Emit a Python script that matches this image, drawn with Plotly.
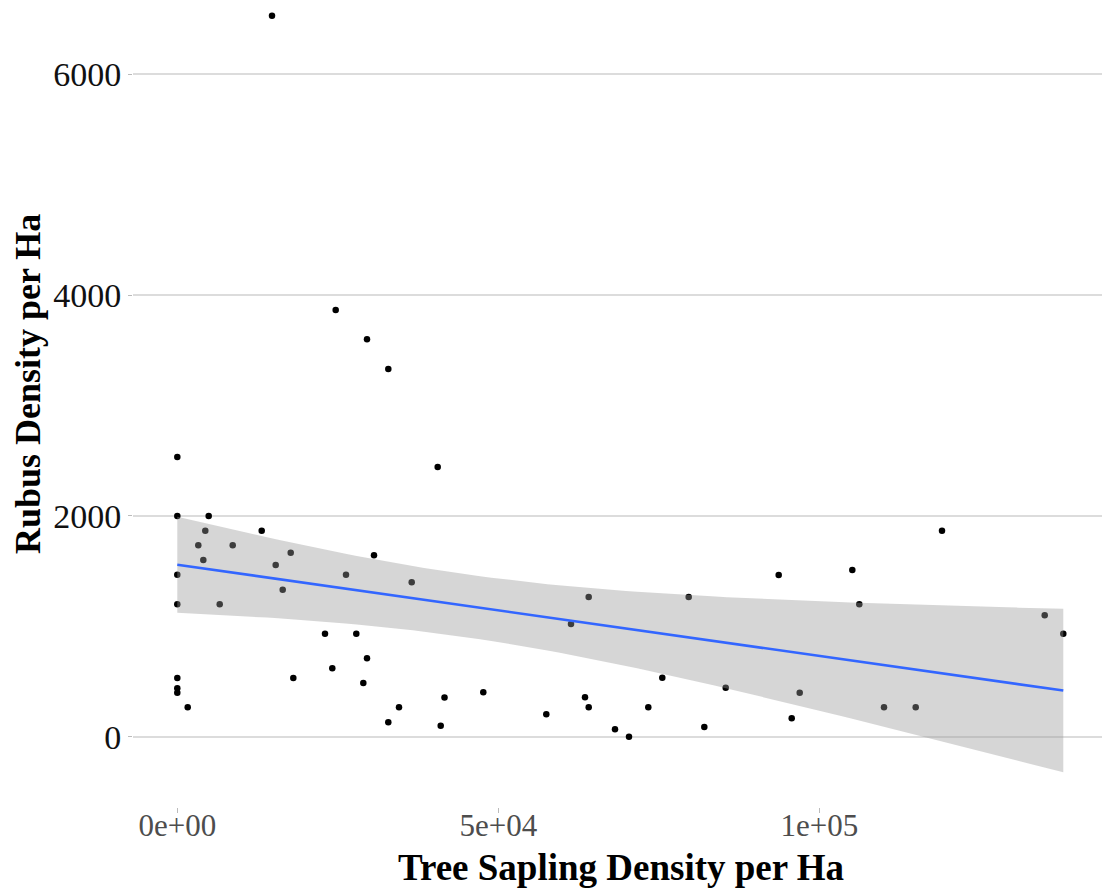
import numpy as np
import plotly.graph_objects as go

# Data
sapling_density = [
    14751, 24673, 29548, 32866, 40561, 0, 0, 4891, 4361, 13146,
    3271, 8629, 17664, 4050, 15327, 30639, 0, 26277, 36511, 16417,
    0, 6604, 23006, 27882, 29548, 24143, 0, 18069, 28972, 0,
    0, 41620, 1620, 34533, 32866, 41028, 64081, 79657, 61324, 75545,
    85421, 47664, 63505, 64081, 73364, 57477, 68178, 70358, 82087, 119112,
    93676, 105140, 106231, 135109, 138006, 96947, 95701, 110078, 115016,
]
rubus_density = [
    6531, 3865, 3600, 3331, 2443, 2534, 2000, 2000, 1866, 1866,
    1734, 1734, 1667, 1601, 1555, 1643, 1467, 1467, 1399, 1332,
    1199, 1199, 933, 933, 710, 620, 532, 532, 486, 438,
    399, 355, 266, 266, 130, 100, 1265, 1265, 1021, 534,
    444, 402, 357, 266, 266, 203, 67, 0, 88, 1866,
    1465, 1510, 1199, 1100, 933, 399, 167, 266, 266,
]
x_tick_vals = [0, 50000, 100000]
x_tick_text = ["0e+00", "5e+04", "1e+05"]
y_tick_vals = [0, 2000, 4000, 6000]
y_tick_text = ["0", "2000", "4000", "6000"]

# Linear model fit with 95% confidence band (like geom_smooth(method="lm"))
x = np.array(sapling_density, dtype=float)
y = np.array(rubus_density, dtype=float)
n = len(x)
slope, intercept = np.polyfit(x, y, 1)
resid = y - (intercept + slope * x)
s = np.sqrt(np.sum(resid ** 2) / (n - 2))
xbar = x.mean()
sxx = np.sum((x - xbar) ** 2)
T_CRIT = 2.0025  # t(0.975, df = n - 2)
xs = np.linspace(x.min(), x.max(), 80)
fit = intercept + slope * xs
se = s * np.sqrt(1.0 / n + (xs - xbar) ** 2 / sxx)
upper = fit + T_CRIT * se
lower = fit - T_CRIT * se

SERIF = "Liberation Serif, Times New Roman, serif"

fig = go.Figure()
fig.add_trace(go.Scatter(
    x=x, y=y, mode="markers",
    marker=dict(color="black", size=6.5, line=dict(width=0)),
    showlegend=False, hoverinfo="x+y",
))
fig.add_trace(go.Scatter(
    x=np.concatenate([xs, xs[::-1]]),
    y=np.concatenate([upper, lower[::-1]]),
    fill="toself", fillcolor="rgba(153,153,153,0.4)",
    line=dict(width=0), mode="lines", showlegend=False, hoverinfo="skip",
))
fig.add_trace(go.Scatter(
    x=xs, y=fit, mode="lines",
    line=dict(color="#3366FF", width=2.6),
    showlegend=False, hoverinfo="skip",
))

fig.update_layout(
    width=1102, height=888,
    margin=dict(l=133, r=0, t=0, b=81),
    paper_bgcolor="white", plot_bgcolor="white",
    font=dict(family=SERIF),
    xaxis=dict(
        range=[-6900, 144034],
        tickvals=x_tick_vals, ticktext=x_tick_text,
        showgrid=False, zeroline=False, showline=False,
        ticks="outside", ticklen=5, tickwidth=1, tickcolor="#bbbbbb",
        ticklabelstandoff=-14,
        tickfont=dict(size=31, color="#4d4d4d", family=SERIF),
    ),
    yaxis=dict(
        range=[-637, 6673],
        tickvals=y_tick_vals, ticktext=y_tick_text,
        showgrid=True, gridcolor="#dcdcdc", gridwidth=1.5,
        zeroline=False, showline=False,
        ticks="outside", ticklen=4, tickwidth=1, tickcolor="#bbbbbb",
        tickfont=dict(size=34, color="#111111", family=SERIF),
    ),
    annotations=[
        dict(text="<b>Tree Sapling Density per Ha</b>",
             x=0.5036, y=-0.0755, xref="paper", yref="paper",
             xanchor="center", yanchor="middle", showarrow=False,
             font=dict(size=37, color="black", family=SERIF)),
        dict(text="<b>Rubus Density per Ha</b>",
             x=-0.1084, y=0.524, xref="paper", yref="paper",
             xanchor="center", yanchor="middle", showarrow=False,
             textangle=-90,
             font=dict(size=36, color="black", family=SERIF)),
    ],
)

fig.write_html("out.html", config={"displayModeBar": False},
               post_script="document.body.style.margin='0';")
